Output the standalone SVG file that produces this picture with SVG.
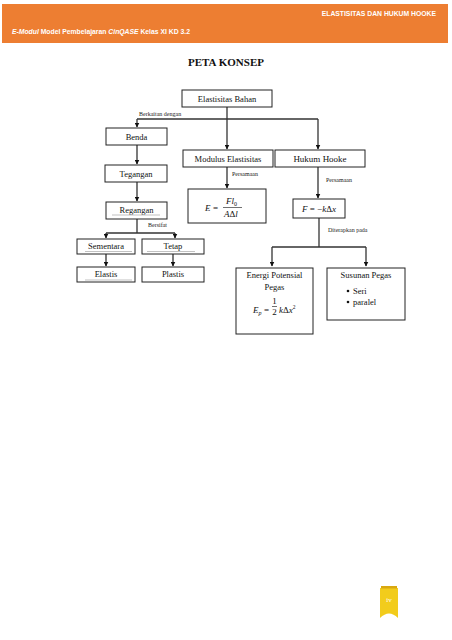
<svg xmlns="http://www.w3.org/2000/svg" width="452" height="640" viewBox="0 0 452 640">
<defs>
<marker id="arr" markerWidth="5" markerHeight="5" refX="4.5" refY="2.5" orient="auto" markerUnits="userSpaceOnUse">
<path d="M0,0 L5,2.5 L0,5 Z" fill="#111"/>
</marker>
</defs>
<style>
.box{fill:#fff;stroke:#222;stroke-width:1}
.t{font-family:"Liberation Serif","Times New Roman",serif;font-size:8.5px;fill:#111;text-anchor:middle}
.tl{font-family:"Liberation Serif","Times New Roman",serif;font-size:8.5px;fill:#111;text-anchor:start}
.s{font-family:"Liberation Serif","Times New Roman",serif;font-size:6px;fill:#222}
.m{font-family:"Liberation Serif","Times New Roman",serif;font-size:9px;fill:#111;font-style:italic}
.mr{font-family:"Liberation Serif","Times New Roman",serif;font-size:9px;fill:#111}
.ln{stroke:#333;stroke-width:1.3;fill:none}
.ul{stroke:#999;stroke-width:0.6}
.hd{font-family:"Liberation Sans",Arial,sans-serif;font-weight:bold;fill:#fff}
</style>
<rect width="452" height="640" fill="#fff"/>
<g id="header">
<rect x="2" y="4" width="446" height="39" fill="#ED7E32"/>
<text class="hd" x="436" y="16" font-size="6.8" text-anchor="end">ELASTISITAS DAN HUKUM HOOKE</text>
<text class="hd" x="12" y="34" font-size="6.8"><tspan font-style="italic">E-Modul</tspan> Model Pembelajaran <tspan font-style="italic">CinQASE</tspan> Kelas XI KD 3.2</text>
</g>
<text x="226" y="66" font-family="Liberation Serif,'Times New Roman',serif" font-size="11" font-weight="bold" text-anchor="middle" fill="#111">PETA KONSEP</text>
<g id="connectors">
<path class="ln" d="M227,107 V149" marker-end="url(#arr)"/>
<path class="ln" d="M137,119 H318"/>
<path class="ln" d="M137,119 V127" marker-end="url(#arr)"/>
<path class="ln" d="M318,119 V149" marker-end="url(#arr)"/>
<path class="ln" d="M137,145 V164" marker-end="url(#arr)"/>
<path class="ln" d="M137,182 V201" marker-end="url(#arr)"/>
<path class="ln" d="M137,219 V233"/>
<path class="ln" d="M106,233 H175"/>
<path class="ln" d="M106,233 V238" marker-end="url(#arr)"/>
<path class="ln" d="M175,233 V238" marker-end="url(#arr)"/>
<path class="ln" d="M106,254 V266" marker-end="url(#arr)"/>
<path class="ln" d="M173,254 V266" marker-end="url(#arr)"/>
<path class="ln" d="M227,167 V188" marker-end="url(#arr)"/>
<path class="ln" d="M318,167 V198" marker-end="url(#arr)"/>
<path class="ln" d="M319,218 V247"/>
<path class="ln" d="M272,247 H366"/>
<path class="ln" d="M272,247 V266" marker-end="url(#arr)"/>
<path class="ln" d="M366,247 V266" marker-end="url(#arr)"/>
<text class="s" x="139" y="116">Berkaitan dengan</text>
<text class="s" x="232" y="176">Persamaan</text>
<text class="s" x="326" y="182">Persamaan</text>
<text class="s" x="148" y="227">Bersifat</text>
<text class="s" x="328" y="232">Diterapkan pada</text>
</g>
<g id="elastisitas-bahan">
<rect class="box" x="182" y="90" width="90" height="17"/>
<text class="t" x="227" y="101.5">Elastisitas Bahan</text>
</g>
<g id="benda">
<rect class="box" x="106" y="128" width="61" height="17"/>
<text class="t" x="136.5" y="139.5">Benda</text>
</g>
<g id="tegangan">
<rect class="box" x="105" y="165" width="62" height="17"/>
<text class="t" x="136" y="176.5">Tegangan</text>
</g>
<g id="regangan">
<rect class="box" x="106" y="202" width="61" height="17"/>
<text class="t" x="136.5" y="213">Regangan</text>
<line class="ul" x1="112" y1="215" x2="160" y2="215"/>
</g>
<g id="sementara">
<rect class="box" x="77" y="239" width="58" height="15"/>
<text class="t" x="106" y="249">Sementara</text>
<line class="ul" x1="85" y1="251.5" x2="132" y2="251.5"/>
</g>
<g id="tetap">
<rect class="box" x="142" y="239" width="62" height="15"/>
<text class="t" x="173" y="249">Tetap</text>
<line class="ul" x1="147" y1="251.5" x2="195" y2="251.5"/>
</g>
<g id="elastis">
<rect class="box" x="77" y="267" width="58" height="15"/>
<text class="t" x="106" y="277">Elastis</text>
<line class="ul" x1="85" y1="280" x2="132" y2="280"/>
</g>
<g id="plastis">
<rect class="box" x="142" y="267" width="62" height="15"/>
<text class="t" x="173" y="277">Plastis</text>
</g>
<g id="modulus-elastisitas">
<rect class="box" x="183" y="150" width="90" height="17"/>
<text class="t" x="228" y="161.5">Modulus Elastisitas</text>
</g>
<g id="hukum-hooke">
<rect class="box" x="275" y="150" width="90" height="17"/>
<text class="t" x="320" y="161.5" style="font-size:9px">Hukum Hooke</text>
</g>
<g id="rumus-modulus">
<rect class="box" x="188" y="189" width="78" height="34"/>
<text class="m" x="205" y="211">E</text>
<text class="mr" x="213" y="211">=</text>
<text class="m" x="226" y="204">Fl<tspan font-size="6" font-style="normal" dy="2">0</tspan></text>
<line x1="223" y1="207.5" x2="242" y2="207.5" stroke="#111" stroke-width="0.6"/>
<text class="m" x="224" y="217">A<tspan font-style="normal">Δ</tspan>l</text>
</g>
<g id="rumus-hooke">
<rect class="box" x="293" y="199" width="52" height="19"/>
<text class="m" x="319" y="211.5" text-anchor="middle">F <tspan font-style="normal">= −</tspan>k<tspan font-style="normal">Δ</tspan>x</text>
</g>
<g id="energi-potensial">
<rect class="box" x="236" y="268" width="77" height="66"/>
<text class="t" x="274.5" y="278">Energi Potensial</text>
<text class="t" x="274.5" y="290">Pegas</text>
<text class="m" x="253" y="313">E<tspan font-size="6" dy="2">p</tspan></text>
<text class="mr" x="264" y="313">=</text>
<text class="mr" x="274.5" y="304" font-size="8" text-anchor="middle">1</text>
<line x1="272" y1="306.5" x2="277" y2="306.5" stroke="#111" stroke-width="0.6"/>
<text class="mr" x="274.5" y="315" font-size="8" text-anchor="middle">2</text>
<text class="m" x="279" y="313">k<tspan font-style="normal">Δ</tspan>x<tspan font-size="5.5" font-style="normal" dy="-4">2</tspan></text>
</g>
<g id="susunan-pegas">
<rect class="box" x="327" y="268" width="78" height="52"/>
<text class="t" x="366" y="278">Susunan Pegas</text>
<circle cx="348" cy="291" r="1.3" fill="#111"/>
<text class="tl" x="353" y="294">Seri</text>
<circle cx="348" cy="302" r="1.3" fill="#111"/>
<text class="tl" x="353" y="305">paralel</text>
</g>
<g id="page-number">
<path d="M380,588 H398 V618 Q389,609 380,618 Z" fill="#F2CC1C"/>
<rect x="381" y="586" width="16" height="2.5" fill="#D9A810"/>
<text x="389" y="602" font-family="Liberation Serif,serif" font-size="7" fill="#fff" text-anchor="middle">iv</text>
</g>
</svg>
